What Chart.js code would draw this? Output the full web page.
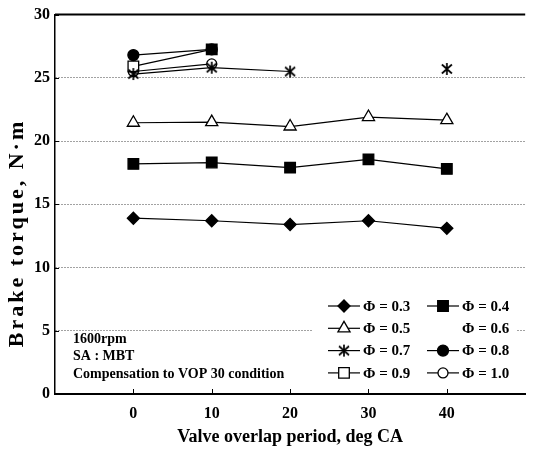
<!DOCTYPE html>
<html>
<head>
<meta charset="utf-8">
<title>Brake torque vs valve overlap period</title>
<script src="https://cdn.jsdelivr.net/npm/chart.js"></script>
<style>
    html, body { margin: 0; padding: 0; background: #fff; }
    #wrap { width: 534px; height: 449px; }
</style>
</head>
<body>
<div id="wrap"><canvas id="torqueChart"></canvas></div>
<script>
    // Valve overlap period, deg CA
    const vop = [0, 10, 20, 30, 40];
    const phiLabels = ['Φ = 0.3', 'Φ = 0.4', 'Φ = 0.5', 'Φ = 0.6', 'Φ = 0.7', 'Φ = 0.8', 'Φ = 0.9', 'Φ = 1.0'];
    // Brake torque, N·m  (null = no point)
    const phi03 = [13.9, 13.7, 13.4, 13.7, 13.1];
    const phi04 = [18.2, 18.3, 17.9, 18.55, 17.8];
    const phi05 = [21.45, 21.5, 21.15, 21.9, 21.65];
    const phi06 = [null, null, null, null, null];
    const phi07 = [25.3, 25.8, 25.5, null, 25.7];
    const phi08 = [26.8, 27.25, null, null, null];
    const phi09 = [25.9, 27.25, null, null, null];
    const phi10 = [25.5, 26.1, null, null, null];
    const xTicks = [0, 10, 20, 30, 40];
    const yTicks = [0, 5, 10, 15, 20, 25, 30];
    const notes = ['1600rpm', 'SA : MBT', 'Compensation to VOP 30 condition'];

    const serif = "'Liberation Serif', 'Times New Roman', serif";

    // six-armed asterisk marker
    function makeAsterisk() {
        const c = document.createElement('canvas');
        c.width = 14; c.height = 14;
        const g = c.getContext('2d');
        g.strokeStyle = '#000';
        g.lineWidth = 1.7;
        g.beginPath();
        g.moveTo(7, 1); g.lineTo(7, 13);
        g.moveTo(2, 2.5); g.lineTo(12, 11.5);
        g.moveTo(12, 2.5); g.lineTo(2, 11.5);
        g.stroke();
        return c;
    }
    const asterisk = makeAsterisk();

    const series = [phi03, phi04, phi05, phi06, phi07, phi08, phi09, phi10];
    const markers = [
        { style: 'rectRot', r: 6, fill: '#000' },
        { style: 'rect', r: 7.5, fill: '#000' },
        { style: 'triangle', r: 7, fill: '#fff' },
        { style: false, r: 0, fill: '#fff' },
        { style: asterisk, r: 6, fill: '#000' },
        { style: 'circle', r: 5.5, fill: '#000' },
        { style: 'rect', r: 7.5, fill: ['#fff', '#000'] },
        { style: 'circle', r: 5, fill: '#fff' }
    ];

    const datasets = series.map((vals, i) => ({
        label: phiLabels[i],
        data: vop.map((x, j) => ({ x: x, y: vals[j] })),
        borderColor: '#000',
        borderWidth: 1.2,
        backgroundColor: '#000',
        pointStyle: markers[i].style,
        pointRadius: markers[i].r,
        pointBackgroundColor: markers[i].fill,
        pointBorderColor: '#000',
        pointBorderWidth: 1.3,
        spanGaps: false,
        tension: 0
    }));

    const decor = {
        id: 'decor',
        afterDraw(chart) {
            const { ctx, chartArea: a, scales: { x, y } } = chart;
            ctx.save();
            ctx.strokeStyle = '#000';
            ctx.fillStyle = '#000';

            // top frame line
            ctx.lineWidth = 2;
            ctx.beginPath();
            ctx.moveTo(a.left, a.top);
            ctx.lineTo(a.right, a.top);
            ctx.stroke();

            // inward tick marks
            ctx.lineWidth = 1;
            ctx.beginPath();
            xTicks.forEach(v => {
                const px = Math.round(x.getPixelForValue(v)) + 0.5;
                ctx.moveTo(px, a.bottom);
                ctx.lineTo(px, a.bottom - 5);
            });
            yTicks.forEach(v => {
                const py = Math.round(y.getPixelForValue(v)) + 0.5;
                ctx.moveTo(a.left, py);
                ctx.lineTo(a.left + 4, py);
            });
            ctx.stroke();

            // axis titles
            ctx.textBaseline = 'middle';
            ctx.textAlign = 'center';
            ctx.font = 'bold 18px ' + serif;
            ctx.fillText('Valve overlap period, deg CA', (a.left + a.right) / 2, 437);

            ctx.save();
            ctx.translate(17, 233);
            ctx.rotate(-Math.PI / 2);
            ctx.font = 'bold 22px ' + serif;
            ctx.letterSpacing = '3px';
            ctx.fillText('Brake torque, N·m', 0, 0);
            ctx.restore();

            // condition notes
            ctx.textAlign = 'left';
            ctx.font = 'bold 14px ' + serif;
            notes.forEach((t, i) => ctx.fillText(t, 73, 339 + i * 17.5));

            // legend
            ctx.fillStyle = '#fff';
            ctx.fillRect(312, 292, 204, 92);
            const colX = [328, 427];
            datasets.forEach((ds, i) => {
                const col = i % 2, row = Math.floor(i / 2);
                const lx = colX[col], ly = 306 + row * 22.3;
                if (ds.pointStyle) {
                    ctx.strokeStyle = '#000';
                    ctx.lineWidth = 1.2;
                    ctx.beginPath();
                    ctx.moveTo(lx, ly);
                    ctx.lineTo(lx + 32, ly);
                    ctx.stroke();
                    const f = Array.isArray(ds.pointBackgroundColor) ? ds.pointBackgroundColor[0] : ds.pointBackgroundColor;
                    ctx.fillStyle = f;
                    ctx.lineWidth = 1.3;
                    Chart.helpers.drawPoint(ctx, {
                        pointStyle: ds.pointStyle, radius: ds.pointRadius,
                        borderWidth: 1.3, rotation: 0
                    }, lx + 16, ly);
                }
                ctx.fillStyle = '#000';
                ctx.font = 'bold 15px ' + serif;
                ctx.textAlign = 'left';
                ctx.fillText(ds.label, lx + 35, ly + 1);
            });
            ctx.restore();
        }
    };

    new Chart(document.getElementById('torqueChart').getContext('2d'), {
        type: 'line',
        data: { datasets: datasets },
        options: {
            responsive: true,
            maintainAspectRatio: false,
            animation: false,
            layout: { padding: { top: 11, right: 0, left: 0, bottom: 0 } },
            plugins: {
                legend: { display: false },
                tooltip: { enabled: false }
            },
            scales: {
                x: {
                    type: 'linear',
                    min: -10, max: 50,
                    afterFit(s) { s.height = 55; },
                    afterBuildTicks(s) { s.ticks = xTicks.map(v => ({ value: v })); },
                    grid: { display: false, drawTicks: false },
                    border: { display: true, color: '#000', width: 2 },
                    ticks: {
                        padding: 10,
                        color: '#000',
                        font: { family: serif, size: 16, weight: 'bold' }
                    }
                },
                y: {
                    min: 0, max: 30,
                    afterFit(s) { s.width = 55; },
                    afterBuildTicks(s) { s.ticks = yTicks.map(v => ({ value: v })); },
                    grid: {
                        drawTicks: false,
                        lineWidth: 1,
                        color: c => (c.tick && c.tick.value > 0 && c.tick.value < 30) ? '#444' : 'rgba(0,0,0,0)'
                    },
                    border: { display: true, color: '#000', width: 1.5, dash: [1, 2] },
                    ticks: {
                        padding: 5,
                        color: '#000',
                        font: { family: serif, size: 16, weight: 'bold' }
                    }
                }
            }
        },
        plugins: [decor]
    });
</script>
</body>
</html>
